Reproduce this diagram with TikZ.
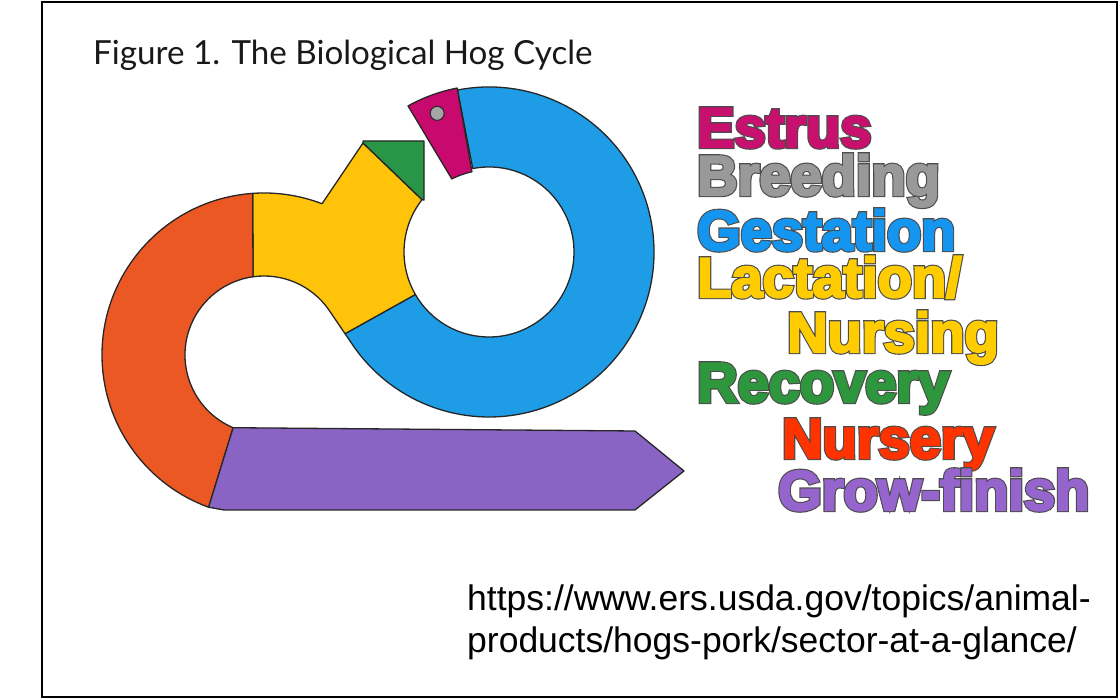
\documentclass[tikz,border=0pt]{standalone}
\usepackage{fontspec}
\usepackage{tikz}
\usetikzlibrary{calc}
\setmainfont{Lato}
\newfontfamily\urlfont{Liberation Sans}
\newfontfamily\hogfont{Liberation Sans Bold}[FakeBold=4]
\newfontfamily\hogedge{Liberation Sans Bold}[FakeBold=8]

\definecolor{estrusc}{RGB}{200,10,110}
\definecolor{gestc}{RGB}{30,157,230}
\definecolor{lactc}{RGB}{255,196,10}
\definecolor{recc}{RGB}{40,150,70}
\definecolor{nursc}{RGB}{236,88,36}
\definecolor{growc}{RGB}{138,100,196}
\definecolor{dotc}{RGB}{165,165,165}
\definecolor{estrusl}{RGB}{200,16,110}
\definecolor{breedl}{RGB}{153,153,153}
\definecolor{gestl}{RGB}{20,150,240}
\definecolor{lactl}{RGB}{255,204,0}
\definecolor{recl}{RGB}{46,150,60}
\definecolor{nursl}{RGB}{255,51,0}
\definecolor{growl}{RGB}{150,100,205}

\newcommand\hogword[2]{\rlap{\hogedge\color{black!70}#2}\textcolor{#1}{#2}}

\begin{document}
\begin{tikzpicture}[x=1pt,y=1pt,
    seg/.style={draw=black!85,line width=1.3pt,line join=round},
    lbl/.style={anchor=base west,inner sep=0pt,font=\hogfont\fontsize{56}{60}\selectfont},
    urlline/.style={anchor=base west,inner sep=0pt,font=\urlfont\fontsize{35.5}{42}\selectfont}]
    \useasboundingbox (0,0) rectangle (1120,700);
    \draw[line width=1.6pt] (42,3) rectangle (1117,698);
    \node[anchor=base west,inner sep=0pt,font=\fontsize{33.2}{38}\selectfont,text=black!90] (title) at (93,635) {Figure 1. The Biological Hog Cycle};

    \coordinate (gc) at (489,448);
    \coordinate (nc) at (264,345);
    \coordinate (s1) at ([shift={(35:79)}]nc);
    \coordinate (s2) at ([shift={(215:165)}]gc);
    \coordinate (m) at ($(s1)!0.65!(s2)$);

    \filldraw[seg,fill=gestc] ([shift={(101:165)}]gc) arc[start angle=101,end angle=-145,radius=165]
        -- (m) -- ([shift={(210:85)}]gc) arc[start angle=210,end angle=461,radius=85] -- cycle;
    \filldraw[seg,fill=lactc] ([shift={(94:162)}]nc) arc[start angle=94,end angle=69,radius=162]
        -- (363,557) -- ([shift={(142:85)}]gc) arc[start angle=142,end angle=210,radius=85]
        -- (m) -- (s1) arc[start angle=35,end angle=98,radius=79] -- cycle;
    \filldraw[seg,fill=recc] (363,559) -- (424,559) -- (424,500) -- ([shift={(142:85)}]gc) -- (363,557) -- cycle;
    \filldraw[seg,fill=estrusc] ([shift={(101:167)}]gc) arc[start angle=101,end angle=119,radius=167]
        -- ([shift={(117:82)}]gc) arc[start angle=117,end angle=102,radius=82] -- cycle;
    \filldraw[seg,fill=dotc,line width=1pt] ([shift={(110.5:148)}]gc) circle[radius=7];
    \filldraw[seg,fill=nursc] ([shift={(94:162)}]nc) arc[start angle=94,end angle=250,radius=162]
        -- ([shift={(247:79)}]nc) arc[start angle=247,end angle=98,radius=79] -- cycle;
    \filldraw[seg,fill=growc] ([shift={(247:79)}]nc) -- (635,269) -- (684,229) -- (635,190) -- (224,190)
        -- ([shift={(250:162)}]nc) -- cycle;

    \node[lbl] (estrus) at (697,553) {\hogword{estrusl}{Estrus}};
    \node[lbl] (breeding) at (697,505) {\hogword{breedl}{Breeding}};
    \node[lbl] (gestation) at (697,450) {\hogword{gestl}{Gestation}};
    \node[lbl] (lactation) at (697,403) {\hogword{lactl}{Lactation/}};
    \node[lbl] (nursing) at (787,348) {\hogword{lactl}{Nursing}};
    \node[lbl] (recovery) at (697,298) {\hogword{recl}{Recovery}};
    \node[lbl] (nursery) at (782,242) {\hogword{nursl}{Nursery}};
    \node[lbl] (growfinish) at (778,190) {\hogword{growl}{Grow-finish}};

    \node[urlline] (url1) at (467,89) {https://www.ers.usda.gov/topics/animal-};
    \node[urlline] (url2) at (467,47) {products/hogs-pork/sector-at-a-glance/};
\end{tikzpicture}
\end{document}
